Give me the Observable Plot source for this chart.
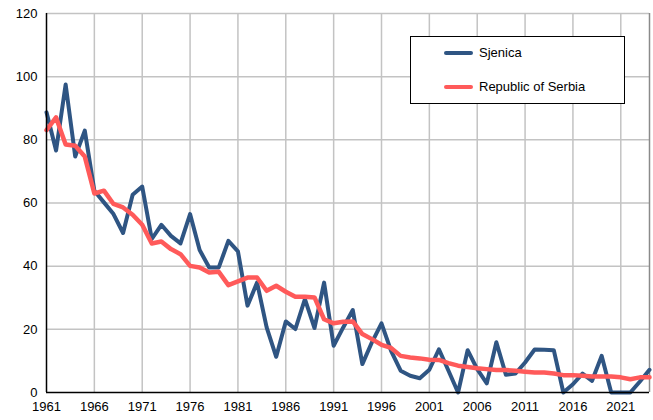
<!DOCTYPE html>
<html><head><meta charset="utf-8">
<script src="https://cdn.jsdelivr.net/npm/d3@7"></script>
<script src="https://cdn.jsdelivr.net/npm/@observablehq/plot@0.6"></script>
<style>
body{margin:0;background:#fff;font-family:"Liberation Sans",Arial,sans-serif;}
#wrap{position:relative;width:653px;height:420px;}
#legend{position:absolute;left:410px;top:36px;width:215px;height:68px;border:1px solid #000;background:#fff;box-sizing:border-box;font-size:13px;color:#000;}
.item{position:absolute;left:33px;display:flex;align-items:center;}
.sw{width:29px;height:4px;margin-right:6px;border-radius:2px;}
</style>
</head><body>
<div id="wrap"><div id="chart"></div>
<div id="legend">
<div class="item" style="top:8px"><div class="sw" style="background:#2f5583"></div><span>Sjenica</span></div>
<div class="item" style="top:42px"><div class="sw" style="background:#ff5a5a"></div><span>Republic of Serbia</span></div>
</div></div>
<script>
const years = d3.range(1961, 2025);
const sjenica = [88.7,76.6,97.5,74.7,82.9,63.9,60.2,56.5,50.5,62.6,65.2,48.6,53.1,49.6,47.2,56.5,45.1,39.6,39.6,48.0,44.7,27.5,34.8,20.6,11.3,22.5,20.1,29.6,20.4,34.8,14.8,20.6,26.1,9.0,15.9,21.9,13.2,6.9,5.3,4.5,7.2,13.7,6.9,0,13.4,7.4,2.9,15.9,5.6,6.0,9.5,13.6,13.5,13.4,0,2.6,6.0,3.7,11.6,0,0,0,3.5,7.2];
const serbia = [83.1,87.1,78.5,78.1,74.7,63.0,63.9,59.7,58.6,56.3,53.1,47.2,47.8,45.4,43.8,40.1,39.6,38.0,38.2,34.0,35.2,36.4,36.4,32.2,33.8,31.9,30.3,30.3,30.1,23.2,21.9,22.4,22.5,18.5,16.9,15.1,14.1,11.6,11.1,10.8,10.4,10.3,9.3,8.5,8.1,7.7,7.4,7.1,7.1,6.9,6.6,6.3,6.3,6.0,5.5,5.5,5.3,5.1,5.1,5.1,4.8,4.2,4.8,4.8];
const xTicks = [1961,1966,1971,1976,1981,1986,1991,1996,2001,2006,2011,2016,2021];
const yTicks = [0,20,40,60,80,100,120];

const rows = years.map((y,i)=>({year:y, sjenica:sjenica[i], serbia:serbia[i]}));

const chart = Plot.plot({
  width: 653, height: 420,
  marginLeft: 46, marginRight: 4, marginTop: 13, marginBottom: 28,
  style: {fontFamily: '"Liberation Sans", Arial, sans-serif', fontSize: "13px", color: "#000", background: "#fff"},
  x: {domain: [1961, 2024]},
  y: {domain: [0, 120]},
  marks: [
    Plot.ruleY(yTicks.slice(1), {stroke: "#c3c3c3", strokeWidth: 1.5}),
    Plot.ruleX(xTicks.slice(1), {stroke: "#c3c3c3", strokeWidth: 1.5}),
    Plot.ruleX([2024], {stroke: "#8a8a8a", strokeWidth: 1.5}),
    Plot.lineY(rows, {x: "year", y: "sjenica", stroke: "#2f5583", strokeWidth: 4}),
    Plot.lineY(rows, {x: "year", y: "serbia", stroke: "#ff5a5a", strokeWidth: 4.5}),
    Plot.ruleX([1961], {stroke: "#000", strokeWidth: 1.5}),
    Plot.ruleY([0], {stroke: "#000", strokeWidth: 1.5}),
    Plot.axisX({ticks: xTicks, tickSize: 0, tickPadding: 9, tickFormat: d => String(d), label: null}),
    Plot.axisY({ticks: yTicks, tickSize: 0, tickPadding: 9, label: null})
  ]
});
document.getElementById("chart").appendChild(chart);
</script>
</body></html>
